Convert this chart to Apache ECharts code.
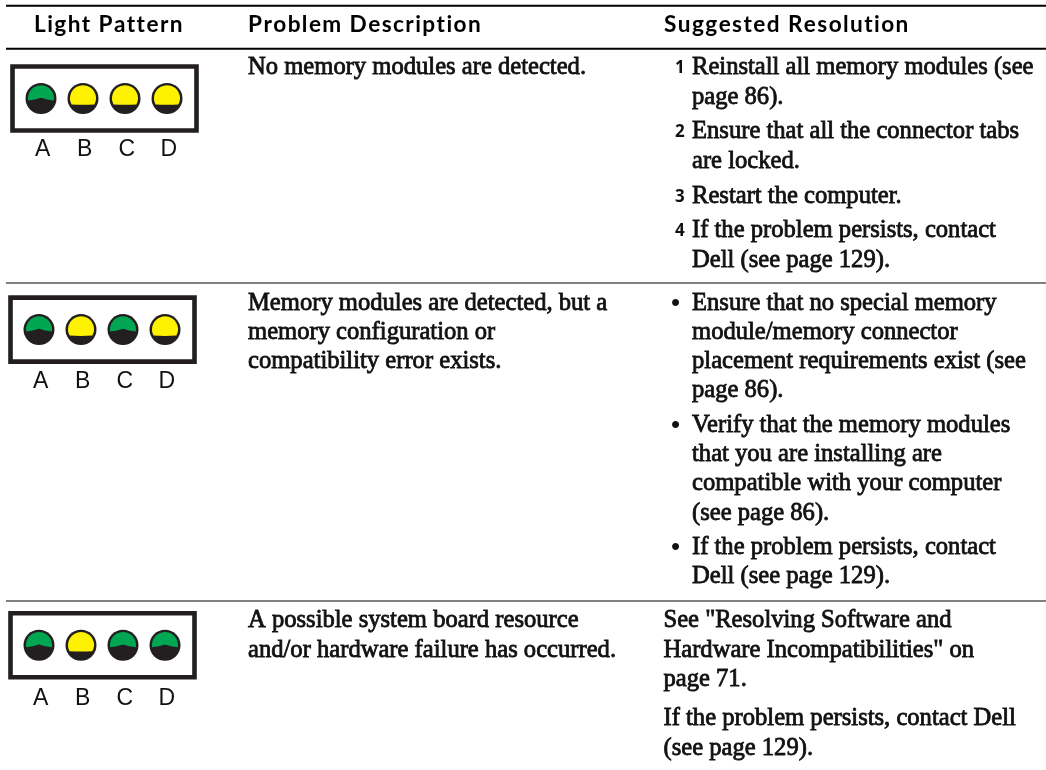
<!DOCTYPE html>
<html>
<head>
<meta charset="utf-8">
<style>
  html, body { margin: 0; padding: 0; background: #fff; }
  #main { width: 1046px; height: 770px; }
</style>
</head>
<body>
<div id="main"></div>
<script src="https://cdn.jsdelivr.net/npm/echarts@6/dist/echarts.min.js"></script>
<script>
const lights = ['A', 'B', 'C', 'D']
// 每一行四个灯的状态
const rowStates = [
  ['green', 'yellow', 'yellow', 'yellow'],
  ['green', 'yellow', 'green', 'yellow'],
  ['green', 'yellow', 'green', 'green'],
]
const headers = ['Light Pattern', 'Problem Description', 'Suggested Resolution']
const problemLines = [
  ['No memory modules are detected.'],
  ['Memory modules are detected, but a', 'memory configuration or', 'compatibility error exists.'],
  ['A possible system board resource', 'and/or hardware failure has occurred.'],
]
const resolutionLines = [
  [
    ['1', 'Reinstall all memory modules (see'], ['', 'page 86).'],
    ['2', 'Ensure that all the connector tabs'], ['', 'are locked.'],
    ['3', 'Restart the computer.'],
    ['4', 'If the problem persists, contact'], ['', 'Dell (see page 129).'],
  ],
  [
    ['•', 'Ensure that no special memory'], ['', 'module/memory connector'],
    ['', 'placement requirements exist (see'], ['', 'page 86).'],
    ['•', 'Verify that the memory modules'], ['', 'that you are installing are'],
    ['', 'compatible with your computer'], ['', '(see page 86).'],
    ['•', 'If the problem persists, contact'], ['', 'Dell (see page 129).'],
  ],
  [
    ['', 'See "Resolving Software and'], ['', 'Hardware Incompatibilities" on'], ['', 'page 71.'],
    ['', 'If the problem persists, contact Dell'], ['', '(see page 129).'],
  ],
]
// 版面位置
const boxCenters = [98.5, 329.6, 645.3]
const boxLefts = [12.5, 10.5, 10.5]
const labelMargins = [8, 9, 10]
const problemLineYs = [
  [67.5],
  [304, 333, 362],
  [621, 651],
]
const resolutionLineYs = [
  [68, 98, 132, 162, 197, 231, 261],
  [304, 333, 362, 391, 426, 455, 484, 514, 548, 577],
  [621, 651, 680, 719, 749],
]
const lineYs = [5.7, 48.8, 283, 601]
const lineColors = ['#000', '#000', '#808080', '#808080']

const COLORS = { green: '#00a651', yellow: '#fff200' }
const DARK = '#231f20'
const serif = '"Liberation Serif", serif'
const sans = '"Lato", sans-serif'

function renderLight(params, api) {
  const c = api.coord([api.value(0), 0.5])
  const state = rowStates[api.value(1)][api.value(0)]
  const x = c[0]
  const y = c[1]
  // 上半部分的亮色，底边带一点弧度
  const shape = state === 'green'
    ? `M${x - 12.8} ${y + 2} A13 13 0 1 1 ${x + 12.8} ${y + 2} Q${x + 6} ${y + 1.5} ${x} ${y - 0.8} Q${x - 6} ${y + 1.5} ${x - 12.8} ${y + 2} Z`
    : `M${x - 11.4} ${y + 6} A13 13 0 1 1 ${x + 11.4} ${y + 6} Q${x} ${y + 6.6} ${x - 11.4} ${y + 6} Z`
  return {
    type: 'group',
    children: [
      {
        type: 'circle',
        shape: { cx: x, cy: y, r: 15.5 },
        style: { fill: DARK },
      },
      {
        type: 'path',
        shape: { pathData: shape },
        style: { fill: COLORS[state] },
      },
    ],
  }
}

const grids = boxCenters.map((c, i) => ({
  left: boxLefts[i] + 7.5,
  top: c - 32,
  width: 168,
  height: 64,
}))
const xAxes = boxCenters.map((_, i) => ({
  type: 'category',
  gridIndex: i,
  data: lights,
  axisLine: { show: false },
  axisTick: { show: false },
  axisLabel: {
    margin: labelMargins[i],
    padding: [0, 0, 0, 3.4],
    fontFamily: '"Liberation Sans", sans-serif',
    fontSize: 23,
    color: '#111',
  },
}))
const yAxes = boxCenters.map((_, i) => ({
  type: 'value',
  gridIndex: i,
  min: 0,
  max: 1,
  show: false,
}))
const series = rowStates.map((row, i) => ({
  type: 'custom',
  xAxisIndex: i,
  yAxisIndex: i,
  clip: false,
  renderItem: renderLight,
  data: row.map((_, j) => [j, i]),
}))

// 表格的线和文字都用 graphic 画
const graphics = []
lineYs.forEach((y, i) => {
  graphics.push({
    type: 'line',
    shape: { x1: 6, y1: y, x2: 1046, y2: y },
    style: { stroke: lineColors[i], lineWidth: 2 },
  })
})
boxCenters.forEach((c, i) => {
  graphics.push({
    type: 'rect',
    shape: { x: boxLefts[i], y: c - 32, width: 184, height: 64 },
    style: { fill: 'none', stroke: DARK, lineWidth: 4.6 },
  })
})
const headerXs = [34, 248, 664]
headers.forEach((text, i) => {
  graphics.push({
    type: 'text',
    x: headerXs[i],
    y: 25,
    style: {
      text: text.split('').join('\u200a'),
      font: `bold 22.6px ${sans}`,
      fill: '#000',
      verticalAlign: 'middle',
    },
  })
})
function bodyText(text, x, y, font, weight) {
  graphics.push({
    type: 'text',
    x: x,
    y: y,
    style: {
      text: text,
      font: font || `24.6px ${serif}`,
      fill: '#111',
      stroke: '#111',
      lineWidth: weight === undefined ? 0.8 : weight,
      verticalAlign: 'middle',
    },
  })
}
problemLines.forEach((lines, i) => {
  lines.forEach((text, j) => bodyText(text, 248, problemLineYs[i][j]))
})
resolutionLines.forEach((lines, i) => {
  lines.forEach((item, j) => {
    const y = resolutionLineYs[i][j]
    if (item[0] === '•') bodyText(item[0], 671, y, `26px "Liberation Sans", sans-serif`, 0)
    else if (item[0]) bodyText(item[0], 675, y, `bold 17px "Open Sans", sans-serif`, 0)
    bodyText(item[1], i === 2 ? 663.5 : 692, y)
  })
})

const myChart = echarts.init(document.getElementById('main'), null, { renderer: 'canvas' })
myChart.setOption({
  animation: false,
  backgroundColor: '#fff',
  grid: grids,
  xAxis: xAxes,
  yAxis: yAxes,
  series: series,
  graphic: graphics,
})
</script>
</body>
</html>
